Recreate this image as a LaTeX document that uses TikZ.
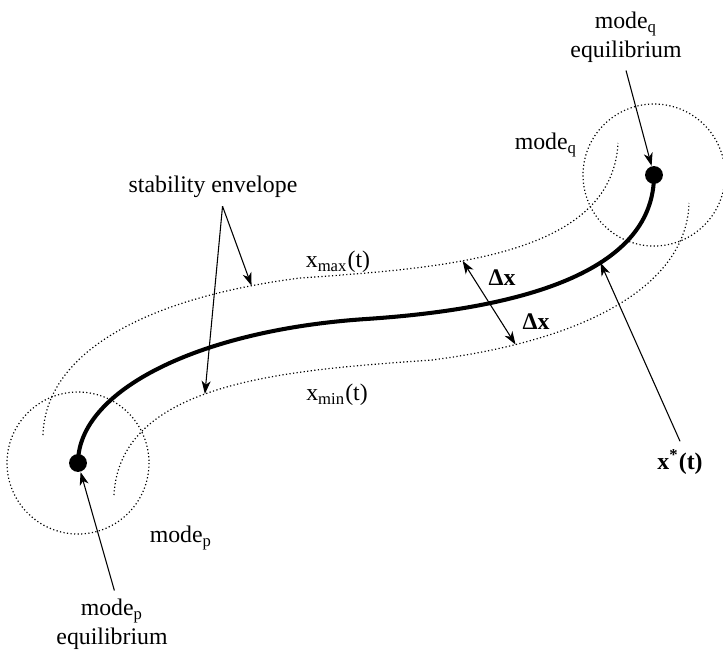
\documentclass[tikz,border=0pt]{standalone}
\usepackage{fontspec}
\setmainfont{Liberation Serif}
\usetikzlibrary{arrows.meta}

\begin{document}
\begin{tikzpicture}[
      x=0.42pt, y=-0.42pt,
      font=\fontsize{10}{12}\selectfont,
      traj/.style={line width=1.7pt},
      env/.style={line width=0.5pt, dash pattern=on 0.5pt off 1pt},
      tip/.tip={Stealth[length=5.5pt, width=3.8pt, inset=1.6pt]},
      ptr/.style={line width=0.45pt, -tip},
      dptr/.style={line width=0.45pt, tip-tip},
      eqdot/.style={circle, fill, inner sep=0pt, minimum size=7.5pt}
    ]
    \useasboundingbox (0,0) rectangle (723,650);

    % equilibria and their regions
    \node[eqdot] (eqp) at (78,463) {};
    \node[eqdot] (eqq) at (654,175) {};
    \draw[env] (eqp.center) circle[radius=71];
    \draw[env] (eqq.center) circle[radius=71];

    % stability envelope
    \draw[env] (43,435) .. controls (45,360) and (130,300) .. coordinate[pos=0.9] (hiA) (300,278)
      .. controls (440,268) and (612,258) .. coordinate[pos=0.38] (hiB) (618,143);
    \draw[env] (114,495) .. controls (120,380) and (292,370) .. coordinate[pos=0.45] (loA) (432,360)
      .. controls (602,338) and (687,278) .. coordinate[pos=0.18] (loB) (689,203);

    % nominal trajectory
    \draw[traj] (eqp.center) .. controls (78,390) and (200,330) .. (366,319)
      .. controls (532,308) and (654,268) .. coordinate[pos=0.6] (onstar) (eqq.center);

    % labels
    \node[align=center] (eqqlbl) at (626,37) {mode\textsubscript{q}\\equilibrium};
    \node[align=center] (eqplbl) at (112,624) {mode\textsubscript{p}\\equilibrium};
    \node (modeq) at (546,145) {mode\textsubscript{q}};
    \node (modep) at (181,538) {mode\textsubscript{p}};
    \node (stab) at (213,187) {stability envelope};
    \node (xmax) at (338,262) {x\textsubscript{max}(t)};
    \node (xmin) at (337,395) {x\textsubscript{min}(t)};
    \node (dxhi) at (502,278) {\textbf{Δx}};
    \node (dxlo) at (536,322) {\textbf{Δx}};
    \node (xstar) at (680,462) {\textbf{x\textsuperscript{*}(t)}};

    % pointers
    \coordinate (apex) at ([xshift=4pt]stab.south);
    \draw[ptr] (apex) -- (hiA);
    \draw[ptr] (apex) -- (loA);
    \draw[ptr] (eqqlbl.south) -- (eqq);
    \draw[ptr] ([xshift=1pt]eqplbl.north) -- (eqp);
    \draw[ptr] (xstar.north) -- (onstar);
    \draw[dptr] (hiB) -- (loB);
  \end{tikzpicture}
\end{document}
